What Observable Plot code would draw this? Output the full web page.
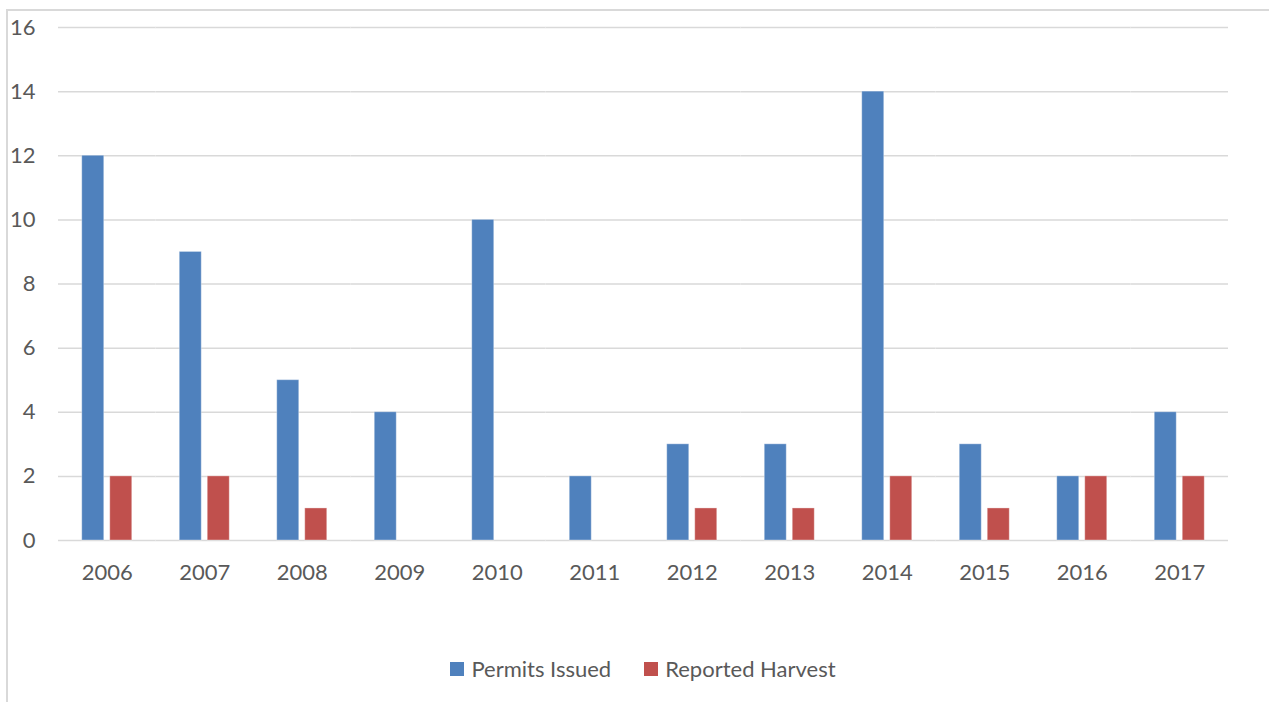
<!DOCTYPE html>
<html>
<head>
<meta charset="utf-8">
<script src="https://cdn.jsdelivr.net/npm/d3@7"></script>
<script src="https://cdn.jsdelivr.net/npm/@observablehq/plot@0.6"></script>
<style>
  html, body { margin: 0; padding: 0; background: #fff; }
  body { width: 1269px; height: 702px; position: relative; overflow: hidden; font-family: Lato, "Open Sans", sans-serif; }
  .frame-top { position: absolute; left: 6px; top: 9px; right: 0; height: 0; border-top: 2px solid #d9d9d9; }
  .frame-left { position: absolute; left: 6px; top: 9px; bottom: 0; width: 0; border-left: 2px solid #d9d9d9; }
  #chart svg { display: block; }
  .legend { position: absolute; top: 656px; left: 58px; right: 41px; display: flex; justify-content: center; align-items: center; gap: 33px; font-size: 22px; color: #595959; line-height: 26px; }
  .legend span.item { display: inline-flex; align-items: center; gap: 7px; }
  .legend i { display: inline-block; width: 14px; height: 14px; }
</style>
</head>
<body>
<div class="frame-top"></div>
<div class="frame-left"></div>
<div id="chart"></div>
<div class="legend" id="legend"></div>
<script>
const years = ["2006", "2007", "2008", "2009", "2010", "2011", "2012", "2013", "2014", "2015", "2016", "2017"];
const permitsIssued = [12, 9, 5, 4, 10, 2, 3, 3, 14, 3, 2, 4];
const reportedHarvest = [2, 2, 1, 0, 0, 0, 1, 1, 2, 1, 2, 2];
const seriesNames = ["Permits Issued", "Reported Harvest"];
const seriesColors = ["#4f81bd", "#c0504d"];
const yTicks = [0, 2, 4, 6, 8, 10, 12, 14, 16];

const rows = years.flatMap((year, i) => [
  {year, series: seriesNames[0], value: permitsIssued[i]},
  {year, series: seriesNames[1], value: reportedHarvest[i]}
]);

const chart = Plot.plot({
  width: 1269,
  height: 600,
  marginLeft: 58,
  marginRight: 41,
  marginTop: 27,
  marginBottom: 60,
  style: {fontFamily: "Lato, 'Open Sans', sans-serif", fontSize: "22px", color: "#595959", background: "transparent"},
  fx: {domain: years, padding: 0, round: false, label: null, tickSize: 0, tickPadding: 24},
  x: {domain: seriesNames, axis: null, round: false, paddingInner: 0.214, paddingOuter: 0.848},
  y: {domain: [0, 16], ticks: yTicks, tickSize: 0, tickPadding: 23, label: null, tickFormat: d => String(d)},
  color: {domain: seriesNames, range: seriesColors},
  marks: [
    Plot.ruleY(yTicks, {stroke: "#d9d9d9", strokeWidth: 1.5}),
    Plot.barY(rows, {
      fx: "year",
      x: "series",
      y: "value",
      fill: "series",
      stroke: "#ffffff",
      strokeOpacity: 0.35,
      strokeWidth: 1
    })
  ]
});
document.getElementById("chart").appendChild(chart);

const legend = document.getElementById("legend");
seriesNames.forEach((name, i) => {
  const item = document.createElement("span");
  item.className = "item";
  const swatch = document.createElement("i");
  swatch.style.background = seriesColors[i];
  const label = document.createElement("span");
  label.textContent = name;
  item.appendChild(swatch);
  item.appendChild(label);
  legend.appendChild(item);
});
</script>
</body>
</html>
